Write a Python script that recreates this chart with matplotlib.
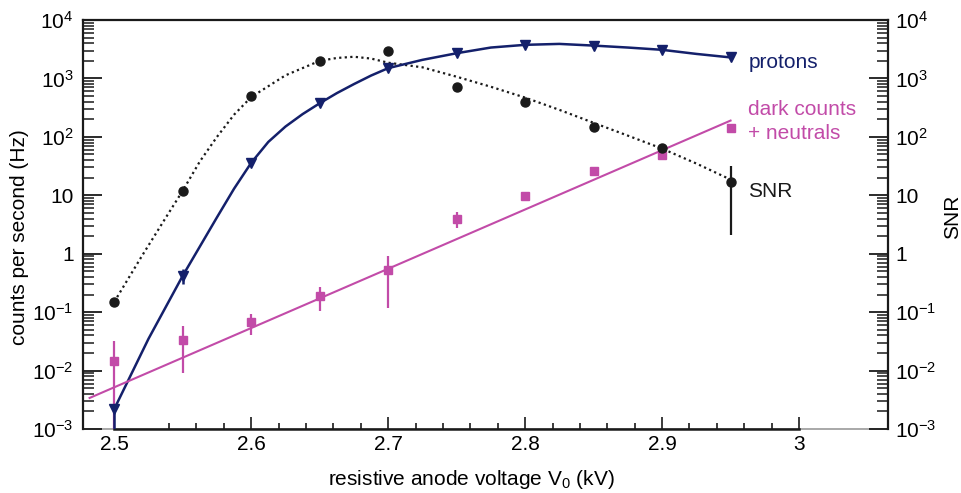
import matplotlib
matplotlib.use("Agg")
import matplotlib.pyplot as plt
from matplotlib.ticker import FixedLocator, NullFormatter

plt.rcParams["font.family"] = ["Liberation Sans", "DejaVu Sans"]
plt.rcParams["mathtext.fontset"] = "custom"
plt.rcParams["mathtext.rm"] = "Liberation Sans"
plt.rcParams["mathtext.it"] = "Liberation Sans:italic"
plt.rcParams["mathtext.default"] = "regular"

NAVY = "#14206b"
MAGENTA = "#c24ba8"
BLACK = "#1a1a1a"

# measured points
voltage = [2.50, 2.55, 2.60, 2.65, 2.70, 2.75, 2.80, 2.85, 2.90, 2.95]

protons = [0.0022, 0.42, 36, 376, 1500, 2700, 3760, 3650, 3090, 2290]
protons_err_lo = [0.0021, 0.12, 0, 0, 0, 0, 0, 0, 0, 0]
protons_err_hi = [0, 0.12, 0, 0, 0, 0, 0, 0, 0, 0]

dark = [0.0145, 0.033, 0.068, 0.186, 0.53, 3.9, 9.7, 25.9, 49, 140]
dark_err_lo = [0.0142, 0.024, 0.027, 0.083, 0.41, 1.14, 1.8, 2.5, 4, 0]
dark_err_hi = [0.018, 0.024, 0.025, 0.084, 0.37, 1.2, 1.8, 2.5, 4, 0]

snr = [0.15, 12, 510, 2000, 3000, 700, 400, 147, 65, 17]
snr_err_lo = [0, 0, 0, 0, 0, 0, 0, 0, 8, 14.9]
snr_err_hi = [0, 0, 0, 0, 0, 0, 0, 0, 10, 15]

# fitted / guide curves
proton_curve_x = [2.50, 2.525, 2.55, 2.575, 2.5875, 2.60, 2.6125, 2.625, 2.6375,
                  2.65, 2.6625, 2.675, 2.6875, 2.70, 2.725, 2.75, 2.775, 2.80,
                  2.825, 2.85, 2.875, 2.90, 2.925, 2.95]
proton_curve_y = [0.0022, 0.035, 0.42, 4.2, 13, 36, 82, 150, 245,
                  376, 560, 800, 1120, 1500, 2080, 2700, 3380, 3760,
                  3900, 3650, 3380, 3090, 2630, 2290]

snr_curve_x = [2.50, 2.52, 2.5375, 2.55, 2.5625, 2.575, 2.5875, 2.60, 2.625,
               2.65, 2.6625, 2.675, 2.6875, 2.70, 2.725, 2.75, 2.775, 2.80,
               2.825, 2.85, 2.875, 2.90, 2.925, 2.95]
snr_curve_y = [0.15, 0.9, 4.1, 12, 38, 100, 240, 480, 1130,
               2000, 2240, 2350, 2190, 1860, 1550, 1070, 720, 470,
               290, 174, 105, 63, 35, 18.6]

dark_fit_x = [2.482, 2.95]
dark_fit_y = [0.0034, 190]

X_MAJOR = [2.5, 2.6, 2.7, 2.8, 2.9, 3.0]
X_MINOR = [2.54, 2.56, 2.58, 2.62, 2.64, 2.66, 2.68, 2.72, 2.74, 2.76, 2.78,
           2.82, 2.84, 2.86, 2.88, 2.92, 2.94, 2.96, 2.98]
Y_TICKS = [1e-3, 1e-2, 1e-1, 1, 10, 1e2, 1e3, 1e4]
Y_LABELS = ["$10^{-3}$", "$10^{-2}$", "$10^{-1}$", "1", "10",
            "$10^{2}$", "$10^{3}$", "$10^{4}$"]
XLIM = (2.4774, 3.0652)
YLIM = (1e-3, 1e4)

fig = plt.figure(figsize=(9.62, 4.93), dpi=100)
ax = fig.add_axes([0.0866, 0.1298, 0.8368, 0.8296])

ax.plot(snr_curve_x, snr_curve_y, color=BLACK, lw=1.6, ls=(0, (1, 1.5)), zorder=2)
ax.plot(proton_curve_x, proton_curve_y, color=NAVY, lw=1.8, zorder=3)
ax.plot(dark_fit_x, dark_fit_y, color=MAGENTA, lw=1.5, zorder=3)

ax.errorbar(voltage, dark, yerr=[dark_err_lo, dark_err_hi], fmt="s",
            color=MAGENTA, ms=5.5, elinewidth=1.6, capsize=0, zorder=4)
ax.errorbar(voltage, protons, yerr=[protons_err_lo, protons_err_hi], fmt="v",
            color=NAVY, ms=6.5, elinewidth=1.8, capsize=0, zorder=5)
ax.errorbar(voltage, snr, yerr=[snr_err_lo, snr_err_hi], fmt="o",
            color=BLACK, ms=6.5, elinewidth=1.6, capsize=0, zorder=5)

ax.set_yscale("log")
ax.set_xlim(*XLIM)
ax.set_ylim(*YLIM)

ax.xaxis.set_major_locator(FixedLocator(X_MAJOR))
ax.xaxis.set_minor_locator(FixedLocator(X_MINOR))
ax.set_xticklabels(["2.5", "2.6", "2.7", "2.8", "2.9", "3"])
ax.set_yticks(Y_TICKS)
ax.set_yticklabels(Y_LABELS)
ax.yaxis.set_minor_formatter(NullFormatter())

ax.tick_params(axis="x", which="major", direction="in", length=9, width=1.2,
               labelsize=15, pad=4, color=BLACK, top=False)
ax.tick_params(axis="x", which="minor", direction="in", length=4.5, width=1.2,
               color=BLACK, top=False)
ax.tick_params(axis="y", which="major", direction="in", length=14, width=1.3,
               labelsize=15, pad=7, color=BLACK)
ax.tick_params(axis="y", which="minor", direction="in", length=8, width=1.1,
               color=BLACK)

for side in ["left", "top", "right"]:
    ax.spines[side].set_linewidth(1.6)
    ax.spines[side].set_color(BLACK)
ax.spines["bottom"].set_bounds(2.5, 3.0)
ax.spines["bottom"].set_linewidth(1.8)
ax.spines["bottom"].set_color(BLACK)
ax.axhline(YLIM[0], color="#9a9a9a", lw=1.2, zorder=0, clip_on=False)

ax.set_xlabel("resistive anode voltage V$_0$ (kV)", fontsize=15)
ax.xaxis.set_label_coords(0.482, -0.095)
ax.set_ylabel("counts per second (Hz)", fontsize=15)
ax.yaxis.set_label_coords(-0.068, 0.469)

ax2 = ax.twinx()
ax2.set_yscale("log")
ax2.set_ylim(*YLIM)
ax2.set_yticks(Y_TICKS)
ax2.set_yticklabels(Y_LABELS)
ax2.yaxis.set_minor_formatter(NullFormatter())
ax2.tick_params(axis="y", which="major", direction="in", length=14, width=1.3,
                labelsize=15, pad=5, color=BLACK)
ax2.tick_params(axis="y", which="minor", direction="in", length=8, width=1.1,
                color=BLACK)
for side in ["left", "top", "right", "bottom"]:
    ax2.spines[side].set_visible(False)
ax2.set_ylabel("SNR", fontsize=15)
ax2.yaxis.set_label_coords(1.068, 0.518)

ax.text(2.963, 1910, "protons", color=NAVY, fontsize=15, va="center", ha="left")
ax.text(2.963, 183, "dark counts\n+ neutrals", color=MAGENTA, fontsize=15,
        va="center", ha="left", linespacing=1.35)
ax.text(2.963, 11.4, "SNR", color=BLACK, fontsize=15, va="center", ha="left")

fig.savefig("out.png", dpi=100)
